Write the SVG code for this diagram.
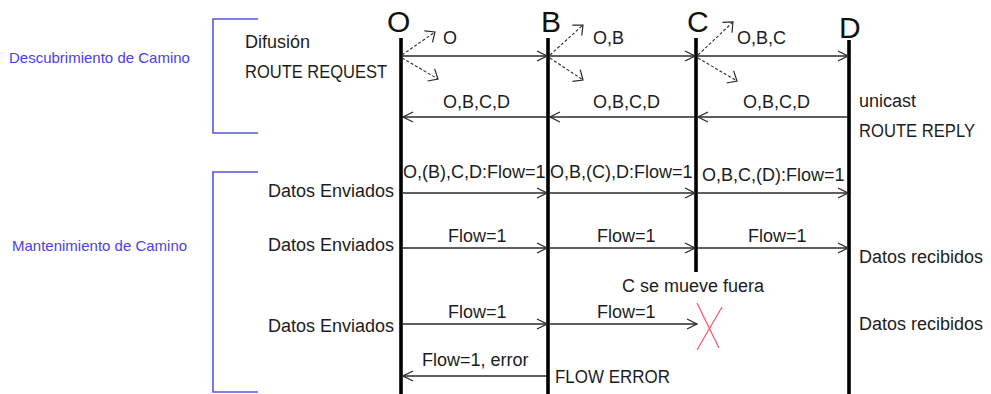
<svg xmlns="http://www.w3.org/2000/svg" width="991" height="394" viewBox="0 0 991 394">
  <style>
    .lifeline { stroke: #000; stroke-width: 3.6; fill: none; }
    .head { font-family: "Liberation Sans", Arial, sans-serif; font-size: 30px; fill: #111; }
    .msg { stroke: #2a2a2a; stroke-width: 1.3; fill: none; marker-end: url(#arrow); }
    .flood { stroke: #2a2a2a; stroke-width: 1.1; stroke-dasharray: 3 2; fill: none; marker-end: url(#arrow-dash); }
    .lbl { font-family: "Liberation Sans", Arial, sans-serif; font-size: 18px; fill: #1c1c1c; }
    .phase { font-family: "Liberation Sans", Arial, sans-serif; font-size: 15px; fill: #4b3df2; }
    .bracket { stroke: #5656e0; stroke-width: 1.6; fill: none; }
    .cross { stroke: #ff4d6a; stroke-width: 1.2; fill: none; }
  </style>
  <defs>
    <marker id="arrow" markerUnits="userSpaceOnUse" markerWidth="12" markerHeight="12" viewBox="0 0 12 12" refX="11" refY="6" orient="auto">
      <path d="M1,1 L11,6 L1,11" fill="none" stroke="#2a2a2a" stroke-width="1.3"/>
    </marker>
    <marker id="arrow-dash" markerUnits="userSpaceOnUse" markerWidth="10" markerHeight="16" viewBox="0 0 10 16" refX="9" refY="8" orient="auto">
      <path d="M1,1 L9,8 L1,15" fill="none" stroke="#2a2a2a" stroke-width="1.2"/>
    </marker>
  </defs>

  <rect width="991" height="394" fill="#fff"/>

  <!-- phase brackets and titles -->
  <g id="phase-discovery">
    <path class="bracket" d="M258,19 H213 V133 H258"/>
    <text class="phase" x="9" y="63">Descubrimiento de Camino</text>
  </g>
  <g id="phase-maintenance">
    <path class="bracket" d="M258,172 H213 V392 H258"/>
    <text class="phase" x="12" y="251">Mantenimiento de Camino</text>
  </g>

  <!-- nodes: lifelines with their names -->
  <g id="node-O">
    <text class="head" x="387" y="32">O</text>
    <line class="lifeline" x1="401" y1="38" x2="401" y2="394"/>
  </g>
  <g id="node-B">
    <text class="head" x="541" y="32">B</text>
    <line class="lifeline" x1="548" y1="38" x2="548" y2="394"/>
  </g>
  <g id="node-C">
    <text class="head" x="687" y="32">C</text>
    <line class="lifeline" x1="696" y1="38" x2="696" y2="272"/>
  </g>
  <g id="node-D">
    <text class="head" x="839" y="38">D</text>
    <line class="lifeline" x1="849" y1="40" x2="849" y2="394"/>
  </g>

  <!-- connectors -->
  <g id="connectors">
    <!-- route request broadcast -->
    <line class="msg" x1="403" y1="56" x2="547" y2="56"/>
    <line class="msg" x1="550" y1="56" x2="695" y2="56"/>
    <line class="msg" x1="698" y1="56" x2="848" y2="56"/>
    <line class="flood" x1="402" y1="55" x2="435" y2="32"/>
    <line class="flood" x1="402" y1="58" x2="438" y2="79"/>
    <line class="flood" x1="550" y1="55" x2="583" y2="25"/>
    <line class="flood" x1="550" y1="58" x2="583" y2="80"/>
    <line class="flood" x1="698" y1="55" x2="733" y2="22"/>
    <line class="flood" x1="698" y1="58" x2="737" y2="81"/>
    <!-- route reply (unicast) -->
    <line class="msg" x1="848" y1="117" x2="698" y2="117"/>
    <line class="msg" x1="695" y1="117" x2="550" y2="117"/>
    <line class="msg" x1="547" y1="117" x2="403" y2="117"/>
    <!-- data, first packet -->
    <line class="msg" x1="403" y1="193" x2="547" y2="193"/>
    <line class="msg" x1="550" y1="193" x2="695" y2="193"/>
    <line class="msg" x1="698" y1="193" x2="848" y2="193"/>
    <!-- data, second packet -->
    <line class="msg" x1="403" y1="248" x2="547" y2="248"/>
    <line class="msg" x1="550" y1="248" x2="695" y2="248"/>
    <line class="msg" x1="698" y1="248" x2="848" y2="248"/>
    <!-- data, third packet (C gone) -->
    <line class="msg" x1="403" y1="324" x2="547" y2="324"/>
    <line class="msg" x1="550" y1="324" x2="697" y2="324"/>
    <!-- flow error back to source -->
    <line class="msg" x1="547" y1="376" x2="403" y2="376"/>
  </g>

  <!-- broken link mark -->
  <g id="link-break">
    <line class="cross" x1="697" y1="303" x2="719" y2="348"/>
    <line class="cross" x1="722" y1="307" x2="697" y2="350"/>
  </g>

  <!-- labels -->
  <g id="labels">
    <text class="lbl" x="245" y="48">Difusión</text>
    <text class="lbl" x="245" y="78" textLength="142" lengthAdjust="spacingAndGlyphs">ROUTE REQUEST</text>
    <text class="lbl" x="443" y="44">O</text>
    <text class="lbl" x="593" y="44">O,B</text>
    <text class="lbl" x="737" y="44">O,B,C</text>

    <text class="lbl" x="443" y="108">O,B,C,D</text>
    <text class="lbl" x="593" y="108">O,B,C,D</text>
    <text class="lbl" x="743" y="108">O,B,C,D</text>
    <text class="lbl" x="859" y="107">unicast</text>
    <text class="lbl" x="859" y="137" textLength="116" lengthAdjust="spacingAndGlyphs">ROUTE REPLY</text>

    <text class="lbl" x="403" y="178">O,(B),C,D:Flow=1</text>
    <text class="lbl" x="550" y="178">O,B,(C),D:Flow=1</text>
    <text class="lbl" x="702" y="181">O,B,C,(D):Flow=1</text>
    <text class="lbl" x="268" y="197">Datos Enviados</text>

    <text class="lbl" x="448" y="242">Flow=1</text>
    <text class="lbl" x="597" y="242">Flow=1</text>
    <text class="lbl" x="748" y="242">Flow=1</text>
    <text class="lbl" x="268" y="251">Datos Enviados</text>
    <text class="lbl" x="859" y="263">Datos recibidos</text>

    <text class="lbl" x="622" y="292">C se mueve fuera</text>
    <text class="lbl" x="448" y="318">Flow=1</text>
    <text class="lbl" x="597" y="318">Flow=1</text>
    <text class="lbl" x="268" y="332">Datos Enviados</text>
    <text class="lbl" x="859" y="330">Datos recibidos</text>

    <text class="lbl" x="422" y="366">Flow=1, error</text>
    <text class="lbl" x="555" y="383" textLength="115" lengthAdjust="spacingAndGlyphs">FLOW ERROR</text>
  </g>
</svg>
